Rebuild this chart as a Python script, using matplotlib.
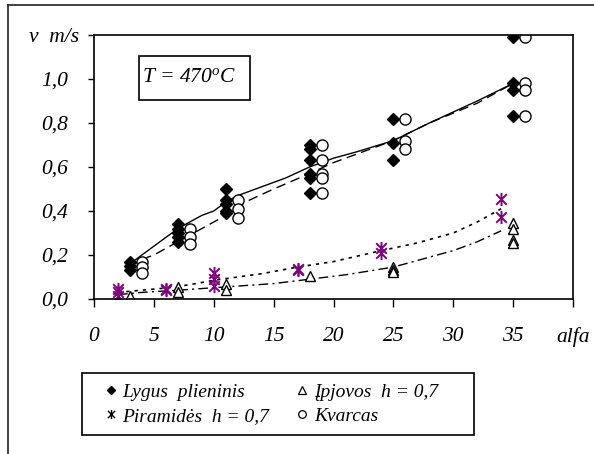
import matplotlib
matplotlib.use("Agg")
import matplotlib.pyplot as plt
from matplotlib.lines import Line2D
from matplotlib.patches import Rectangle
from matplotlib.path import Path

plt.rcParams['font.family'] = 'Liberation Serif'
plt.rcParams['font.style'] = 'italic'
plt.rcParams['mathtext.fontset'] = 'custom'
plt.rcParams['mathtext.it'] = 'Liberation Serif:italic'
plt.rcParams['mathtext.rm'] = 'Liberation Serif:italic'

PURPLE = '#800080'

# measured points
lygus_x = [3, 3, 3, 7, 7, 7, 7, 7, 11, 11, 11, 11, 11,
           18, 18, 18, 18, 18, 18, 25, 25, 25, 35, 35, 35, 35]
lygus_v = [0.17, 0.15, 0.13, 0.34, 0.32, 0.30, 0.28, 0.26, 0.50, 0.45, 0.43, 0.40, 0.39,
           0.70, 0.68, 0.63, 0.57, 0.55, 0.48, 0.82, 0.71, 0.63, 1.19, 0.98, 0.95, 0.83]

kvarc_x = [4, 4, 4, 8, 8, 8, 12, 12, 12, 19, 19, 19, 19, 19, 26, 26, 26, 36, 36, 36, 36]
kvarc_v = [0.17, 0.145, 0.12, 0.32, 0.28, 0.25, 0.45, 0.41, 0.37,
           0.70, 0.63, 0.57, 0.55, 0.48, 0.82, 0.72, 0.68, 1.19, 0.98, 0.95, 0.83]

piram_x = [2, 2, 2, 6, 6, 10, 10, 10, 17, 17, 24, 24, 34, 34]
piram_v = [0.045, 0.03, 0.015, 0.045, 0.04, 0.12, 0.09, 0.06, 0.135, 0.13, 0.23, 0.21, 0.455, 0.375]

ipjov_x = [3, 7, 7, 11, 11, 18, 25, 25, 25, 35, 35, 35, 35]
ipjov_v = [0.015, 0.055, 0.03, 0.07, 0.04, 0.105, 0.145, 0.13, 0.125, 0.345, 0.32, 0.27, 0.255]

# trend lines
lygus_tx = [3, 4, 5, 6, 7, 8, 9, 10, 11, 12, 14, 16, 18, 20, 22, 25, 28, 30, 32, 35]
lygus_tv = [0.16, 0.20, 0.24, 0.28, 0.32, 0.35, 0.38, 0.40, 0.44, 0.47, 0.51, 0.55, 0.60,
            0.64, 0.67, 0.72, 0.80, 0.85, 0.90, 0.98]
kvarc_tx = [4, 5, 6, 7, 8, 9, 10, 11, 12, 13, 15, 18, 20, 22, 25, 28, 32, 35]
kvarc_tv = [0.18, 0.20, 0.23, 0.26, 0.29, 0.32, 0.35, 0.38, 0.42, 0.45, 0.50, 0.57,
            0.62, 0.66, 0.72, 0.80, 0.89, 0.98]
piram_tx = [2, 4, 6, 8, 10, 12, 14, 17, 20, 24, 27, 30, 32, 34]
piram_tv = [0.03, 0.04, 0.05, 0.065, 0.085, 0.10, 0.115, 0.145, 0.17, 0.22, 0.255, 0.30, 0.35, 0.41]
ipjov_tx = [2, 4, 7, 11, 15, 18, 21, 25, 28, 30, 32, 34]
ipjov_tv = [0.02, 0.03, 0.04, 0.055, 0.07, 0.09, 0.11, 0.145, 0.19, 0.22, 0.26, 0.31]

xticks = [0, 5, 10, 15, 20, 25, 30, 35, 40]
xlabels = ['0', '5', '10', '15', '20', '25', '30', '35', 'alfa']
yticks = [0.0, 0.2, 0.4, 0.6, 0.8, 1.0, 1.2]
ylabels = ['0,0', '0,2', '0,4', '0,6', '0,8', '1,0', 'v  m/s']

legend_names = ['Lygus  plieninis', 'Piramidės  h = 0,7', 'Įpjovos  h = 0,7', 'Kvarcas']

# excel style star: X with a vertical bar
star = Path([(-1, -1), (1, 1), (-1, 1), (1, -1), (0, -1.25), (0, 1.25)],
            [Path.MOVETO, Path.LINETO, Path.MOVETO, Path.LINETO, Path.MOVETO, Path.LINETO])

fig = plt.figure(figsize=(5.94, 4.54), dpi=100)
ax = fig.add_axes([94 / 594, 1 - 299 / 454, (573 - 94) / 594, (299 - 35) / 454])

ax.plot(lygus_tx, lygus_tv, color='black', lw=1.0, ls='-')
ax.plot(kvarc_tx, kvarc_tv, color='black', lw=1.0, ls=(0, (7, 4)))
ax.plot(piram_tx, piram_tv, color='black', lw=1.2, ls=(0, (2, 3)))
ax.plot(ipjov_tx, ipjov_tv, color='black', lw=1.0, ls=(0, (7, 3, 1.5, 3)))

ax.plot(lygus_x, lygus_v, ls='none', marker='D', ms=6, color='black')
ax.plot(kvarc_x, kvarc_v, ls='none', marker='o', ms=8, mfc='white', mec='black', mew=1.0)
ax.plot(ipjov_x, ipjov_v, ls='none', marker='^', ms=7.5, mfc='white', mec='black', mew=1.0)
ax.plot(piram_x, piram_v, ls='none', marker=star, ms=9.5, color=PURPLE, mew=1.4)

ax.set_xlim(0, 40)
ax.set_ylim(0, 1.2)
ax.set_xticks(xticks)
ax.set_xticklabels(xlabels, fontsize=15.5)
ax.set_yticks(yticks)
ax.set_yticklabels(ylabels, fontsize=15.5, ha='center')
ax.tick_params(axis='x', direction='out', length=6, width=1, pad=14.5)
ax.tick_params(axis='y', direction='out', length=4.5, width=1, pad=24)
for s in ax.spines.values():
    s.set_linewidth(1.2)

# temperature box
fig.add_artist(Rectangle((139 / 594, 1 - 100 / 454), 111 / 594, 44 / 454,
                         transform=fig.transFigure, fill=False, ec='black', lw=1.2))
fig.text(189 / 594, 1 - 78 / 454, r'T = 470$^{o}$C', ha='center', va='center', fontsize=15.5)

# legend, its frame drawn separately
handles = [
    Line2D([], [], ls='none', marker='D', ms=4, color='black'),
    Line2D([], [], ls='none', marker=star, ms=6.5, color='black', mew=1.0),
    Line2D([], [], ls='none', marker='^', ms=5.5, mfc='white', mec='black', mew=0.9),
    Line2D([], [], ls='none', marker='o', ms=5.5, mfc='white', mec='black', mew=0.9),
]
fig.legend(handles, legend_names, ncol=2, fontsize=14,
           loc='center left', bbox_to_anchor=(105 / 594, 1 - 404 / 454),
           frameon=False, borderpad=0, borderaxespad=0,
           handlelength=0.6, handletextpad=0.3, columnspacing=1.4,
           labelspacing=0.35)
fig.add_artist(Rectangle((82 / 594, 1 - 435 / 454), 392 / 594, 62 / 454,
                         transform=fig.transFigure, fill=False, ec='black', lw=1.2))

# outer chart frame (open on the right and bottom)
fig.add_artist(Line2D([8 / 594, 8 / 594], [0, 1 - 5 / 454], transform=fig.transFigure,
                      color='#222222', lw=1.2))
fig.add_artist(Line2D([8 / 594, 1], [1 - 5 / 454, 1 - 5 / 454], transform=fig.transFigure,
                      color='#222222', lw=1.2))

fig.savefig('out.png', dpi=100)
